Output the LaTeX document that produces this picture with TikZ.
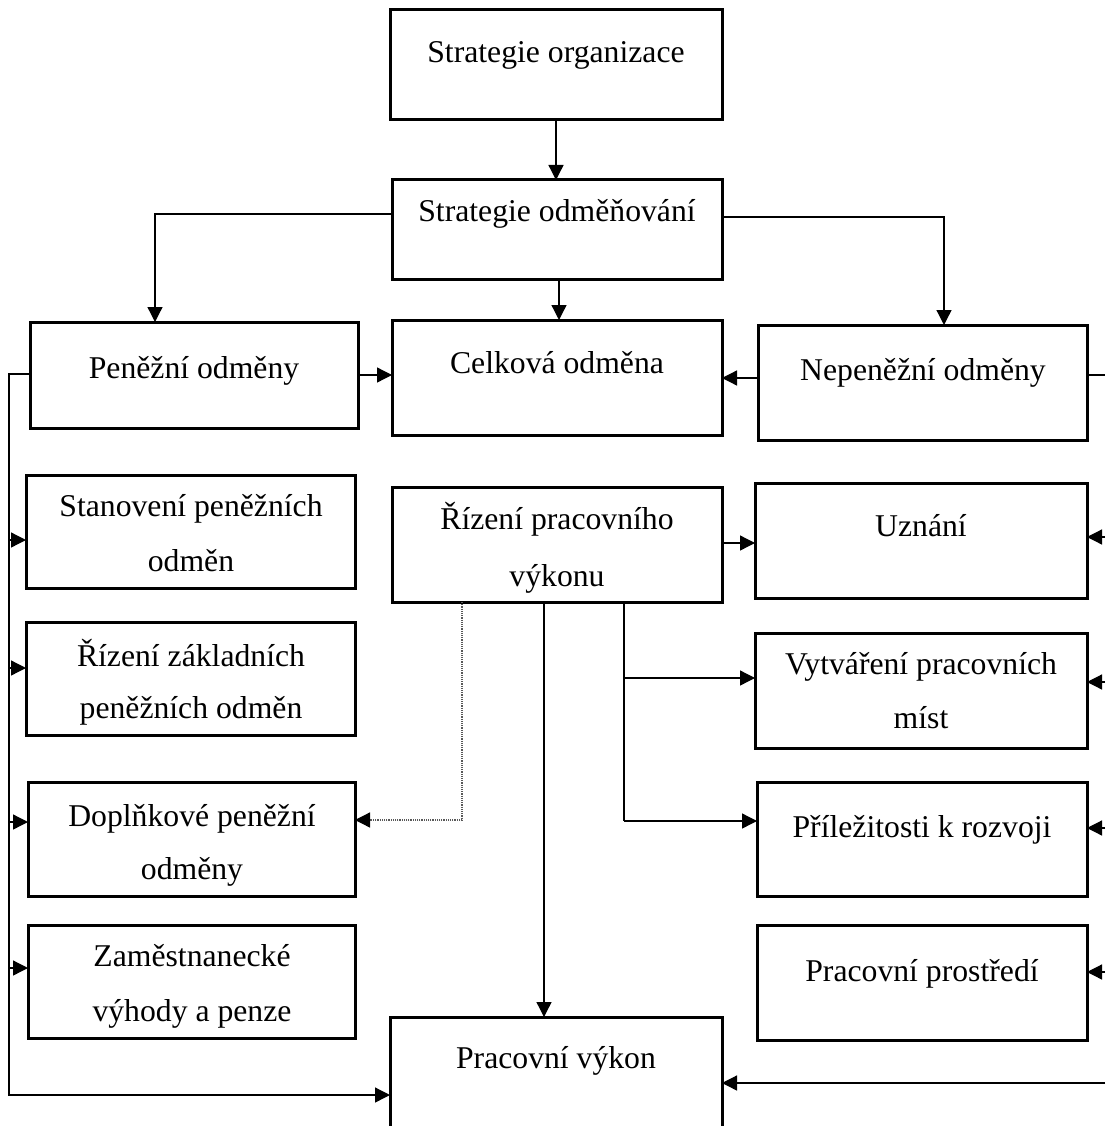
\documentclass[tikz,border=0pt]{standalone}
\usepackage{fontspec}
\setmainfont{Liberation Serif}
\usetikzlibrary{arrows.meta}
\begin{document}
\begin{tikzpicture}[x=1pt,y=-1pt,
  box/.style={draw, line width=3pt, inner sep=0pt, outer sep=0pt},
  txt/.style={anchor=base, inner sep=0pt, font=\fontsize{31.7}{38}\selectfont},
  conn/.style={line width=1.3pt},
  tip/.style={-{Triangle[length=15pt,width=15pt,color=black]}},
  arr/.style={conn, tip},
  dots/.style={line width=1.3pt, draw=black!65, dash pattern=on 1.2pt off 1pt}]
\useasboundingbox (0,0) rectangle (1105,1126);
\clip (0,0) rectangle (1105,1126);

% boxes
\node[box, minimum width=332pt, minimum height=110pt] (so)   at (556,65) {};
\node[box, minimum width=330pt, minimum height=99pt]  (sodm) at (557,229.5) {};
\node[box, minimum width=328pt, minimum height=106pt] (pen)  at (194,375) {};
\node[box, minimum width=330pt, minimum height=115pt] (cel)  at (557,377.5) {};
\node[box, minimum width=329pt, minimum height=115pt] (nep)  at (922.5,382.5) {};
\node[box, minimum width=329pt, minimum height=113pt] (stan) at (190.5,531.5) {};
\node[box, minimum width=329pt, minimum height=113pt] (rzak) at (190.5,678.5) {};
\node[box, minimum width=327pt, minimum height=114pt] (dopl) at (191.5,839) {};
\node[box, minimum width=327pt, minimum height=113pt] (zam)  at (191.5,981.5) {};
\node[box, minimum width=330pt, minimum height=115pt] (rpv)  at (557,544.5) {};
\node[box, minimum width=332pt, minimum height=115pt] (uzn)  at (921,540.5) {};
\node[box, minimum width=332pt, minimum height=115pt] (vyt)  at (921,690.5) {};
\node[box, minimum width=330pt, minimum height=114pt] (pril) at (922,839) {};
\node[box, minimum width=330pt, minimum height=115pt] (pros) at (922,982.5) {};
\node[box, minimum width=332pt, minimum height=146pt] (pv)   at (556,1090) {};

% texts
\node[txt] (t1)  at (556,63)  {Strategie organizace};
\node[txt] (t2)  at (557,221) {Strategie odměňování};
\node[txt] (t3)  at (194,378) {Peněžní odměny};
\node[txt] (t4)  at (557,373) {Celková odměna};
\node[txt] (t5)  at (923,380) {Nepeněžní odměny};
\node[txt] (t6a) at (191,516) {Stanovení peněžních};
\node[txt] (t6b) at (191,571) {odměn};
\node[txt] (t7a) at (191,666) {Řízení základních};
\node[txt] (t7b) at (191,718) {peněžních odměn};
\node[txt] (t8a) at (192,826) {Doplňkové peněžní};
\node[txt] (t8b) at (192,879) {odměny};
\node[txt] (t9a) at (192,966) {Zaměstnanecké};
\node[txt] (t9b) at (192,1021) {výhody a penze};
\node[txt] (t10a) at (557,529) {Řízení pracovního};
\node[txt] (t10b) at (557,586) {výkonu};
\node[txt] (t11) at (921,536) {Uznání};
\node[txt] (t12a) at (921,674) {Vytváření pracovních};
\node[txt] (t12b) at (921,728) {míst};
\node[txt] (t13) at (922,837) {Příležitosti k rozvoji};
\node[txt] (t14) at (922,981) {Pracovní prostředí};
\node[txt] (t15) at (556,1068) {Pracovní výkon};

% helper coordinates
\coordinate (lb) at (155,214);
\coordinate (rb) at (944,217);
\coordinate (bus0) at (9,374);
\coordinate (bus1) at (9,540);
\coordinate (bus2) at (9,668);
\coordinate (bus3) at (9,822);
\coordinate (bus4) at (9,968);
\coordinate (bus5) at (9,1095);
\coordinate (re0) at (1105,375);
\coordinate (re1) at (1105,537);
\coordinate (re2) at (1105,682);
\coordinate (re3) at (1105,828);
\coordinate (re4) at (1105,972);
\coordinate (re5) at (1105,1083);
\coordinate (dA) at (462,820);
\coordinate (sB) at (544,0);
\coordinate (cC) at (624,678);
\coordinate (cD) at (624,821);

% top connectors
\draw[arr] (so.south) -- (so.south |- sodm.north);
\draw[arr] (sodm.west |- lb) -- (lb) -- (lb |- pen.north);
\draw[arr] (sodm.east |- rb) -- (rb) -- (rb |- nep.north);
\draw[arr] (559,0 |- sodm.south) -- (559,0 |- cel.north);
\draw[arr] (pen.east |- 0,375) -- (cel.west |- 0,375);
\draw[arr] (nep.west |- 0,378) -- (cel.east |- 0,378);

% left bus
\draw[arr] (pen.west |- bus0) -- (bus0) -- (bus5) -- (pv.west |- bus5);
\draw[arr] (bus1) -- (stan.west |- bus1);
\draw[arr] (bus2) -- (rzak.west |- bus2);
\draw[arr] (bus3) -- (dopl.west |- bus3);
\draw[arr] (bus4) -- (zam.west |- bus4);

% right side
\draw[conn] (nep.east |- re0) -- (re0);
\draw[arr] (re1) -- (uzn.east |- re1);
\draw[arr] (re2) -- (vyt.east |- re2);
\draw[arr] (re3) -- (pril.east |- re3);
\draw[arr] (re4) -- (pros.east |- re4);
\draw[arr] (re5) -- (pv.east |- re5);

% from Rizeni pracovniho vykonu
\draw[arr] (rpv.east |- 0,543) -- (uzn.west |- 0,543);
\draw[dots, tip] (dA |- rpv.south) -- (dA) -- (dopl.east |- dA);
\draw[arr] (sB |- rpv.south) -- (sB |- pv.north);
\draw[conn] (cD |- rpv.south) -- (cD);
\draw[arr] (cC) -- (vyt.west |- cC);
\draw[arr] (cD) -- (pril.west |- cD);
\end{tikzpicture}
\end{document}
